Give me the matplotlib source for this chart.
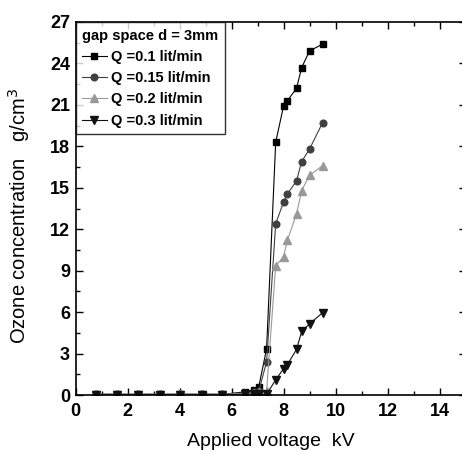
import matplotlib
matplotlib.use("Agg")
import matplotlib.pyplot as plt
from matplotlib.ticker import MultipleLocator

voltage = [0.8, 1.6, 2.4, 3.25, 4.0, 4.85, 5.65, 6.5, 6.85, 7.05, 7.35,
           7.7, 8.0, 8.15, 8.5, 8.7, 9.0, 9.5]
q01 = [0.05, 0.05, 0.05, 0.05, 0.05, 0.05, 0.05, 0.22, 0.35, 0.6, 3.35,
       18.3, 20.9, 21.3, 22.2, 23.7, 24.9, 25.4]
q015 = [0.05, 0.05, 0.05, 0.05, 0.05, 0.05, 0.05, 0.15, 0.25, 0.3, 2.4,
        12.4, 13.95, 14.55, 15.5, 16.9, 17.8, 19.7]
q02 = [0.05, 0.05, 0.05, 0.05, 0.05, 0.05, 0.05, 0.1, 0.15, 0.2, 0.3,
       9.35, 10.0, 11.2, 13.1, 14.8, 15.9, 16.6]
q03 = [0.0, 0.0, 0.0, 0.0, 0.0, 0.0, 0.0, 0.05, 0.05, 0.05, 0.05,
       1.1, 1.9, 2.2, 3.3, 4.6, 5.15, 5.95]
labels = ["Q =0.1 lit/min", "Q =0.15 lit/min", "Q =0.2 lit/min", "Q =0.3 lit/min"]
legend_title = "gap space d = 3mm"

plt.rcParams['font.family'] = ['Liberation Sans', 'DejaVu Sans']

fig = plt.figure(figsize=(4.62, 4.5), dpi=100)
ax = fig.add_axes([75.5/462, 55/450, 390/462, 373/450])

styles = [
    dict(marker='s', color='#000000', ms=4.6),
    dict(marker='o', color='#404040', ms=4.8),
    dict(marker='^', color='#999999', ms=6),
    dict(marker='v', color='#111111', ms=6),
]
for ys, lab, st in zip([q01, q015, q02, q03], labels, styles):
    ax.plot(voltage, ys, marker=st['marker'], color=st['color'], ms=st['ms'],
            lw=0.8, mec=st['color'], mfc=st['color'], label=lab)

ax.set_xlim(0, 15)
ax.set_ylim(0, 27)
ax.xaxis.set_major_locator(MultipleLocator(2))
ax.xaxis.set_minor_locator(MultipleLocator(1))
ax.yaxis.set_major_locator(MultipleLocator(3))
ax.yaxis.set_minor_locator(MultipleLocator(1.5))
ax.tick_params(which='both', direction='in', top=True, right=True, width=1)
ax.tick_params(which='major', length=5, labelsize=13)
ax.tick_params(axis='x', which='major', pad=6)
ax.tick_params(axis='y', which='major', pad=4)
ax.tick_params(which='minor', length=3)
ax.set_xticks([0, 2, 4, 6, 8, 10, 12, 14])
for lbl in ax.get_xticklabels() + ax.get_yticklabels():
    lbl.set_fontweight('bold')
for s in ax.spines.values():
    s.set_linewidth(1.2)

ax.set_xlabel("Applied voltage  kV", fontsize=14, labelpad=9)
ax.set_ylabel("Ozone concentration   g/cm$^3$", fontsize=14.5)
ax.yaxis.set_label_coords(-0.112, 0.48)

fp = dict(family=['Liberation Sans'], weight='bold', size=10.5)
leg = ax.legend(loc='upper left', title=legend_title, frameon=True,
                fancybox=False, borderaxespad=0, handlelength=1.7,
                handletextpad=0.3, borderpad=0.45, labelspacing=0.5,
                prop=fp, title_fontproperties=fp)
leg.get_frame().set_edgecolor('black')
leg.get_frame().set_linewidth(1.0)
leg._legend_box.align = "left"

fig.savefig("out.png", dpi=100)
